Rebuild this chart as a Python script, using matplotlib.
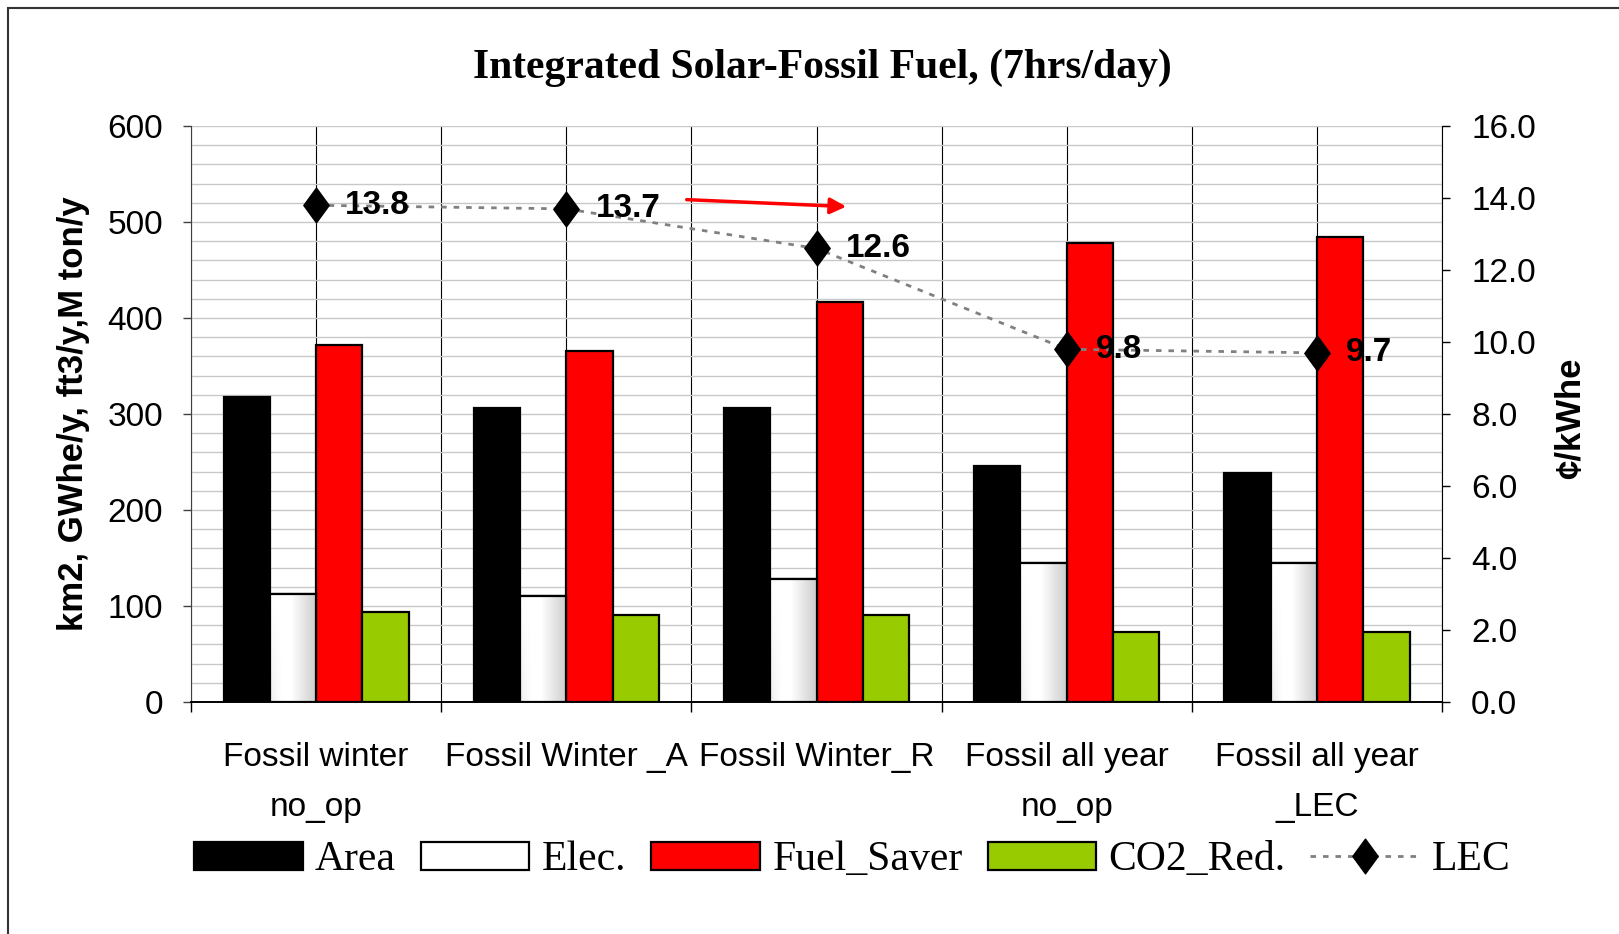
import matplotlib

matplotlib.use("Agg")

import matplotlib.pyplot as plt
import numpy as np
from matplotlib.patches import Rectangle
from matplotlib.path import Path

categories = [
    "Fossil winter\nno_op",
    "Fossil Winter _A",
    "Fossil Winter_R",
    "Fossil all year\nno_op",
    "Fossil all year\n_LEC",
]
area = [318, 306, 306, 246, 239]
elec = [112, 110, 128, 145, 145]
fuel_saver = [372, 366, 417, 478, 484]
co2_red = [94, 91, 91, 73, 73]
lec = [13.8, 13.7, 12.6, 9.8, 9.7]

SANS = ["Liberation Sans", "DejaVu Sans"]
SERIF = ["Liberation Serif", "DejaVu Serif"]

fig = plt.figure(figsize=(16.19, 9.34), dpi=100)
ax = fig.add_axes([0.118, 0.2484, 0.7727, 0.6166])

x = np.arange(len(categories))
bw = 0.185
series = [
    (area, "Area", "black"),
    (elec, "Elec.", "white"),
    (fuel_saver, "Fuel_Saver", "#ff0000"),
    (co2_red, "CO2_Red.", "#99cc00"),
]
handles = []
for i, (vals, label, color) in enumerate(series):
    bars = ax.bar(x + (i - 1.5) * bw, vals, bw, color=color, edgecolor="black",
                  linewidth=1.6, label=label, zorder=3)
    handles.append(bars)
    if label == "Elec.":
        # soft grey shading like the Excel gradient fill
        u = np.linspace(0, 1, 60)[None, :]
        v = np.linspace(0, 1, 60)[:, None]
        shade = np.clip((u - 0.45) / 0.55, 0, 1) * 0.2 + np.clip(0.25 - u, 0, 1) * v * 0.25
        img = 1 - shade
        for rect in bars:
            x0, w, h = rect.get_x(), rect.get_width(), rect.get_height()
            im = ax.imshow(img, cmap="gray", vmin=0, vmax=1, extent=[x0, x0 + w, 0, h],
                           aspect="auto", zorder=3.05, interpolation="bilinear")
            im.set_clip_path(rect)
        ax.bar(x + (i - 1.5) * bw, vals, bw, fill=False, edgecolor="black",
               linewidth=1.6, zorder=3.1)

ax.set_xlim(-0.5, len(categories) - 0.5)
ax.set_ylim(0, 600)
ax.set_yticks(np.arange(0, 601, 100))
ax.set_yticks(np.arange(0, 601, 20), minor=True)
ax.set_xticks(x, categories)
ax.set_xticks(np.arange(-0.5, len(categories), 1), minor=True)
ax.set_axisbelow(True)
ax.grid(axis="y", which="both", color="#c8c8c8", linewidth=1.0)
ax.grid(axis="x", which="both", color="black", linewidth=0.8)

ax.tick_params(axis="x", which="major", length=0, pad=29, labelsize=24)
ax.tick_params(axis="x", which="minor", length=7, width=1, direction="out")
ax.tick_params(axis="y", which="major", length=6, width=1, direction="out",
               pad=14, labelsize=24, color="#404040")
ax.tick_params(axis="y", which="minor", length=0)
for lab in ax.get_xticklabels() + ax.get_yticklabels():
    lab.set_family(SANS)
for lab in ax.get_xticklabels():
    lab.set_linespacing(1.8)

ax.spines["top"].set_visible(False)
ax.spines["right"].set_visible(False)
ax.spines["left"].set_color("#404040")
ax.spines["bottom"].set_linewidth(1.4)

ax2 = ax.twinx()
ax2.set_ylim(0, 16)
ax2.set_yticks(np.arange(0, 16.1, 2))
ax2.set_yticklabels([f"{t:.1f}" for t in np.arange(0, 16.1, 2)], family=SANS)
ax2.tick_params(axis="y", length=6, width=1, direction="out", pad=15, labelsize=24)
for side in ("top", "left", "bottom"):
    ax2.spines[side].set_visible(False)

diamond = Path([(0, 1), (0.73, 0), (0, -1), (-0.73, 0), (0, 1)],
               [Path.MOVETO, Path.LINETO, Path.LINETO, Path.LINETO, Path.CLOSEPOLY])
(lec_line,) = ax2.plot(x, lec, color="#808080", linestyle=(0, (2, 2.5)), linewidth=2,
                       marker=diamond, markersize=25, markerfacecolor="black",
                       markeredgecolor="black", label="LEC", zorder=5)
handles.append(lec_line)

for xi, v in zip(x, lec):
    ax2.annotate(f"{v:.1f}", (xi, v), xytext=(21, 0), textcoords="offset points",
                 ha="left", va="center", fontsize=24, fontweight="bold", family=SANS,
                 zorder=6)

ax2.annotate("", xy=(2.13, 13.76), xytext=(1.47, 13.96),
             arrowprops=dict(arrowstyle="-|>", color="red", lw=2.5, mutation_scale=24),
             zorder=6)

fig.text(0.508, 0.927, "Integrated Solar-Fossil Fuel, (7hrs/day)", ha="center",
         va="center", fontsize=30, fontweight="bold", family=SERIF)
fig.text(0.0457, 0.557, "km2, GWhe/y, ft3/y,M ton/y", rotation=90, ha="center",
         va="center", fontsize=25, fontweight="bold", family=SANS)
fig.text(0.9704, 0.5525, "¢/kWhe", rotation=90, ha="center", va="center",
         fontsize=25, fontweight="bold", family=SANS)

fig.legend(handles, [h.get_label() for h in handles], loc="center left",
           bbox_to_anchor=(0.12, 0.079), ncol=5, frameon=False,
           prop=dict(family=SERIF, size=30), handlelength=2.6, handleheight=0.67,
           handletextpad=0.3, columnspacing=0.6, borderaxespad=0, borderpad=0)

fig.patches.append(Rectangle((0.005, -0.05), 1.1, 1.05 - 0.0089, transform=fig.transFigure,
                             fill=False, edgecolor="#333333", linewidth=1.5))

fig.savefig("out.png", dpi=100)
